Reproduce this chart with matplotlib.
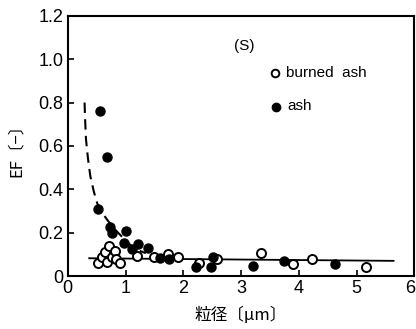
import matplotlib
matplotlib.use('Agg')
from matplotlib import pyplot as plt
from matplotlib.transforms import ScaledTranslation

# burned ash (open circles)
burned_x = [0.52, 0.60, 0.64, 0.71, 0.68, 0.76, 0.81, 0.84, 0.91, 1.19, 1.49,
            1.73, 1.90, 2.27, 2.59, 3.35, 3.90, 4.23, 5.16]
burned_y = [0.062, 0.089, 0.112, 0.139, 0.066, 0.089, 0.117, 0.077, 0.059, 0.093, 0.087,
            0.102, 0.087, 0.062, 0.079, 0.105, 0.056, 0.080, 0.040]

# ash (filled circles)
ash_x = [0.56, 0.68, 0.52, 0.73, 0.77, 1.01, 0.97, 1.12, 1.22, 1.38, 1.59,
         1.75, 2.22, 2.48, 2.51, 3.20, 3.75, 4.63]
ash_y = [0.761, 0.550, 0.308, 0.228, 0.200, 0.206, 0.151, 0.125, 0.146, 0.128, 0.082,
         0.077, 0.043, 0.040, 0.087, 0.046, 0.070, 0.054]

# dashed trend for ash
dash_x = [0.29, 0.30, 0.315, 0.35, 0.39, 0.45, 0.51, 0.60, 0.68, 0.78, 0.88,
          1.00, 1.115, 1.23, 1.35]
dash_y = [0.80, 0.72, 0.63, 0.54, 0.46, 0.39, 0.335, 0.29, 0.26, 0.225, 0.197,
          0.165, 0.135, 0.118, 0.105]

# solid trend for burned ash
solid_x = [0.37, 5.64]
solid_y = [0.082, 0.070]

xticks = [0, 1, 2, 3, 4, 5, 6]
yticks = [0, 0.2, 0.4, 0.6, 0.8, 1.0, 1.2]
ytick_labels = ['0', '0.2', '0.4', '0.6', '0.8', '1.0', '1.2']

plt.rcParams['font.family'] = ['Liberation Sans', 'DejaVu Sans']

fig = plt.figure(figsize=(4.16, 3.29), dpi=100)
ax = fig.add_axes([0.163, 0.161, 0.833, 0.791])

ax.plot(dash_x, dash_y, color='black', lw=1.5, ls=(0, (5, 3)))
ax.plot(solid_x, solid_y, color='black', lw=1.3)
ax.plot(burned_x, burned_y, 'o', ms=6.5, mfc='white', mec='black', mew=1.4)
ax.plot(ash_x, ash_y, 'o', ms=6.5, mfc='black', mec='black')

ax.set_xlim(0, 6)
ax.set_ylim(0, 1.2)
ax.set_xticks(xticks)
ax.set_yticks(yticks)
ax.set_yticklabels(ytick_labels)
ax.tick_params(direction='in', length=4, width=1.2, labelsize=13, pad=3)
for s in ax.spines.values():
    s.set_linewidth(1.5)

# keep the last x label inside the figure
last = ax.get_xticklabels()[-1]
last.set_transform(last.get_transform() + ScaledTranslation(-4 / 100, 0, fig.dpi_scale_trans))

# legend drawn by hand
ax.text(2.88, 1.06, '(S)', fontsize=11, ha='left', va='center')
ax.plot([3.58], [0.935], 'o', ms=5.5, mfc='white', mec='black', mew=1.4)
ax.text(3.78, 0.935, 'burned  ash', fontsize=11, ha='left', va='center')
ax.plot([3.60], [0.78], 'o', ms=6, mfc='black', mec='black')
ax.text(3.80, 0.785, 'ash', fontsize=11, ha='left', va='center')

ax.set_xlabel('粒径〔μm〕', fontsize=12, family=['Noto Sans CJK JP', 'DejaVu Sans'], labelpad=7)
ax.set_ylabel('EF〔−〕', fontsize=12, family=['Noto Sans CJK JP', 'DejaVu Sans'], labelpad=10)

fig.savefig('out.png', dpi=100)
